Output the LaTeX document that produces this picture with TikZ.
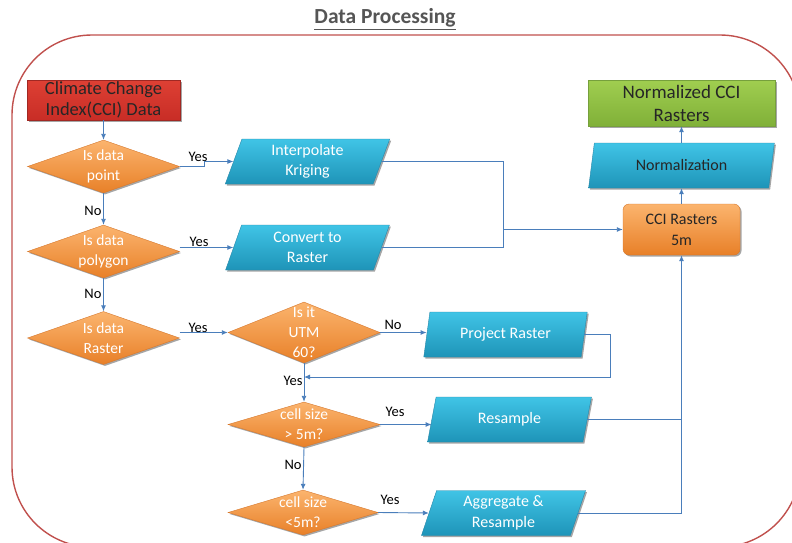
\documentclass[tikz,border=0pt]{standalone}
\usepackage{fontspec}
\setmainfont{Carlito}
\usetikzlibrary{shapes.geometric,arrows.meta,shadows}
\definecolor{conn}{RGB}{74,126,187}
\definecolor{frame}{RGB}{192,80,77}
\definecolor{orT}{RGB}{251,180,110}
\definecolor{orB}{RGB}{232,128,40}
\definecolor{orD}{RGB}{214,120,45}
\definecolor{blT}{RGB}{64,196,230}
\definecolor{blB}{RGB}{30,148,184}
\definecolor{blD}{RGB}{40,135,168}
\definecolor{rdT}{RGB}{222,64,52}
\definecolor{rdB}{RGB}{200,45,38}
\definecolor{rdD}{RGB}{160,40,35}
\definecolor{grT}{RGB}{160,206,80}
\definecolor{grB}{RGB}{128,176,56}
\definecolor{grD}{RGB}{118,160,60}
\definecolor{ttl}{RGB}{85,85,85}
\tikzset{
  x=1pt,y=-1pt,
  shd/.style={drop shadow={shadow xshift=1.5pt,shadow yshift=-1.5pt,opacity=0.35,fill=black}},
  decis/.style={shape=diamond,minimum width=152pt,minimum height=53pt,inner sep=0pt,
    top color=orT,bottom color=orB,draw=orD,line width=0.4pt,shd},
  dtext/.style={text=white,align=center,font=\fontsize{15.5}{20}\selectfont},
  procbox/.style={shape=trapezium,trapezium left angle=75,trapezium right angle=105,
    trapezium stretches=true,minimum width=165pt,minimum height=45pt,inner sep=0pt,
    top color=blT,bottom color=blB,draw=blD,line width=0.4pt,shd,
    text=white,align=center,font=\fontsize{16}{20.5}\selectfont},
  lbl/.style={text=black,font=\fontsize{14.5}{16}\selectfont,inner sep=0pt},
  line/.style={draw=conn,line width=0.9pt},
  arr/.style={line,-{Latex[length=6pt,width=5pt]}},
}
\begin{document}
\begin{tikzpicture}
\useasboundingbox (0,0) rectangle (792,543);
\begin{scope}
\clip (0,0) rectangle (792,543);
\draw[frame,line width=1.4pt,rounded corners=80pt] (12,35) rectangle (800,547);
\end{scope}
\node[text=ttl,font=\fontsize{21.5}{24}\selectfont\bfseries] (title) at (385,19) {\underline{Data Processing}};

% nodes
\node[draw=rdD,top color=rdT,bottom color=rdB,minimum width=153pt,minimum height=40pt,inner sep=0pt,shd,
      align=center,font=\fontsize{18.5}{21}\selectfont,text=black!85] (cci) at (103.5,100) {Climate Change\\Index(CCI) Data};
\node[decis,label={[dtext]center:Is data\\point}] (d1) at (103.5,166.5) {};
\node[decis,label={[dtext]center:Is data\\polygon}] (d2) at (103.5,251.5) {};
\node[decis,label={[dtext]center:Is data\\Raster}] (d3) at (103.5,338) {};
\node[procbox] (krig) at (307.5,161.5) {Interpolate\\Kriging};
\node[procbox] (conv) at (307.5,247.5) {Convert to\\Raster};
\node[decis,minimum height=61pt,label={[dtext]center:Is it\\UTM\\60?}] (utm) at (304,332.5) {};
\node[procbox] (proj) at (505.5,334.5) {Project Raster};
\node[decis,minimum height=45pt,label={[dtext]center:cell size\\> 5m?}] (c1) at (304,424.5) {};
\node[procbox] (res) at (509.5,419.5) {Resample};
\node[decis,minimum width=150pt,minimum height=45pt,label={[dtext]center:cell size\\<5m?}] (c2) at (303,512.5) {};
\node[procbox] (agg) at (503.5,513) {Aggregate \&\\Resample};
\node[draw=orD,top color=orT,bottom color=orB,rounded corners=6pt,minimum width=117pt,minimum height=51pt,
      inner sep=0pt,shd,align=center,font=\fontsize{16}{21}\selectfont,text=black!85] (cci5) at (681.5,229.5) {CCI Rasters\\5m};
\node[procbox,minimum width=187pt,text=black!85] (norm) at (681.5,165.5) {Normalization};
\node[draw=grD,top color=grT,bottom color=grB,minimum width=187pt,minimum height=46pt,inner sep=0pt,shd,
      align=center,font=\fontsize{19}{23}\selectfont,text=black!85] (ncci) at (681.5,103) {Normalized CCI\\Rasters};

% labels
\node[lbl] (y1) at (198,157) {Yes};
\node[lbl] (n1) at (93,211) {No};
\node[lbl] (y2) at (199,242) {Yes};
\node[lbl] (n2) at (93,294) {No};
\node[lbl] (y3) at (198,328) {Yes};
\node[lbl] (n3) at (393,325) {No};
\node[lbl] (y4) at (293,381) {Yes};
\node[lbl] (y5) at (395,412) {Yes};
\node[lbl] (n4) at (293,465) {No};
\node[lbl] (y6) at (390,500) {Yes};

% connectors
\coordinate (bus) at (503,229.5);
\coordinate (mrg) at (304,377);
\draw[arr] (cci.south) -- (d1.north);
\draw[arr] (d1.east) -- ++(25,0) |- (krig.west);
\draw[arr] (d1.south) -- (d2.north);
\draw[arr] (d2.east |- conv.west) -- (conv.west);
\draw[arr] (d2.south) -- (d3.north);
\draw[arr] (d3.east |- utm.west) -- (utm.west);
\draw[arr] (utm.east) -- (utm.east -| proj.west);
\draw[arr] (proj.east) -- ++(26,0) |- (mrg);
\draw[arr] (utm.south) -- (c1.north);
\draw[arr] (c1.east) -- (c1.east -| res.west);
\draw[arr] (c1.south) -- (c2.north);
\draw[arr] (c2.east) -- (agg.west);
\draw[line] (res.east) -- (res.east -| cci5.south);
\draw[arr] (agg.east) -| (cci5.south);
\draw[arr] (krig.east) -| (bus) -- (cci5.west);
\draw[line] (conv.east) -| (bus);
\draw[arr] (cci5.north) -- (norm.south);
\draw[arr] (norm.north) -- (ncci.south);
\end{tikzpicture}
\end{document}
